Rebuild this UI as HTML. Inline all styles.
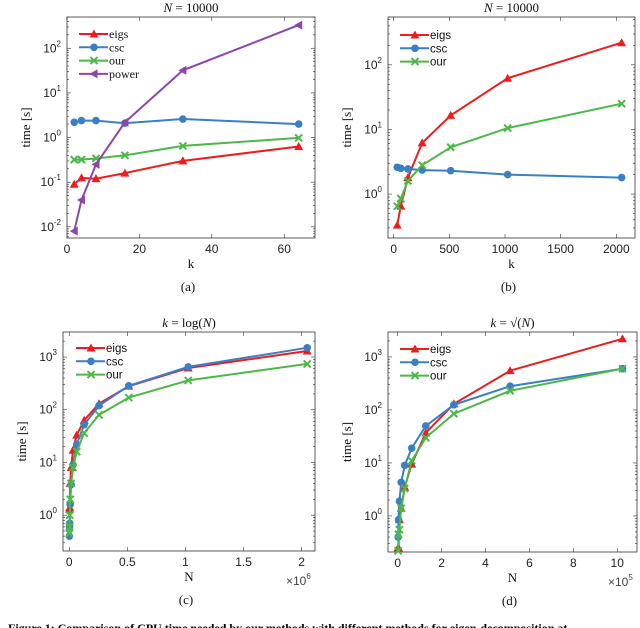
<!DOCTYPE html>
<html><head><meta charset="utf-8">
<style>
html,body{margin:0;padding:0;background:#fff;overflow:hidden;}
svg{display:block;}
.serif{font-family:"Liberation Serif",serif;}
.sans{font-family:"Liberation Sans",sans-serif;}
</style></head>
<body>
<svg id="fig" width="640" height="628" viewBox="0 0 640 628" xmlns="http://www.w3.org/2000/svg">
<text x="8" y="632" class="serif" font-size="12" font-weight="bold" fill="#000">Figure 1: Comparison of CPU time needed by our methods with different methods for eigen-decomposition at</text>
</svg>
<script>
// ---- data: panel a ----
const aK = [2, 4, 8, 16, 32, 64];
const aEigs = [0.09, 0.125, 0.12, 0.16, 0.3, 0.63];
const aCsc = [2.2, 2.4, 2.4, 2.1, 2.6, 2.0];
const aOur = [0.32, 0.32, 0.34, 0.4, 0.65, 0.98];
const aPower = [0.008, 0.04, 0.25, 2.2, 32, 330];
const aXTicks = [0, 20, 40, 60];
// ---- data: panel b ----
const bK = [32, 64, 128, 256, 512, 1024, 2048];
const bEigs = [0.33, 0.65, 1.8, 6.2, 16.5, 62, 220];
const bCsc = [2.6, 2.5, 2.45, 2.35, 2.3, 2.0, 1.8];
const bOur = [0.65, 0.85, 1.6, 2.8, 5.3, 10.5, 25];
const bXTicks = [0, 500, 1000, 1500, 2000];
// ---- data: panel c (N in units of 1e6) ----
const cN = [0.001, 0.002, 0.004, 0.008, 0.016, 0.032, 0.064, 0.128, 0.256, 0.512, 1.024, 2.048];
const cEigs = [1.3, 1.4, 4, 8, 17, 33, 63, 130, 280, 620, 1300, 1300];
const cCsc = [0.4, 0.6, 0.7, 1.6, 3.8, 9, 22, 52, 120, 285, 650, 1500];
const cOur = [0.45, 0.6, 1, 2, 4, 8, 16, 36, 80, 170, 360, 740];
const cXTicks = [0, 0.5, 1, 1.5, 2];
// ---- data: panel d (N in units of 1e5) ----
const dN = [0.02, 0.04, 0.08, 0.16, 0.32, 0.64, 1.28, 2.56, 5.12, 10.24];
const dEigs = [0.25, 0.25, 0.85, 1.4, 3.5, 9.5, 37, 130, 550, 2200];
const dCsc = [0.4, 0.85, 1.9, 4.3, 9, 19, 50, 125, 280, 600];
const dOur = [0.22, 0.45, 0.55, 1.4, 3.3, 11, 30, 85, 230, 600];
const dXTicks = [0, 2, 4, 6, 8, 10];

// panel c eigs: second-to-last entry duplicates; use values at N excluding 2.048 double
const cEigsUse = [1.3, 1.4, 4, 8, 17, 33, 63, 130, 280, 620, 1300];
const cEigsN = cN.slice(1);

const NS = 'http://www.w3.org/2000/svg';
const svg = document.getElementById('fig');
const RED='#ee1c1c', BLUE='#3a7fc4', GREEN='#4cb847', PURPLE='#8e44ad';

function mk(tag, attrs, parent){
  const e = document.createElementNS(NS, tag);
  for (const k in attrs) e.setAttribute(k, attrs[k]);
  (parent||svg).appendChild(e);
  return e;
}

function marker(g, type, x, y, color){
  let e;
  if (type === 'tri') {
    e = mk('polygon', {points:`${x},${y-4.5} ${x-4.5},${y+3.5} ${x+4.5},${y+3.5}`, fill:color}, g);
  } else if (type === 'ltri') {
    e = mk('polygon', {points:`${x-4.5},${y} ${x+3.5},${y-4.5} ${x+3.5},${y+4.5}`, fill:color}, g);
  } else if (type === 'circ') {
    e = mk('circle', {cx:x, cy:y, r:3.8, fill:color}, g);
  } else {
    e = mk('path', {d:`M${x-3.5},${y-3.5}L${x+3.5},${y+3.5}M${x-3.5},${y+3.5}L${x+3.5},${y-3.5}`, stroke:color, 'stroke-width':2}, g);
  }
  return e;
}

function panel(p){
  const g = mk('g', {});
  
  
  const xs = v => p.x0 + (v - p.xmin) / (p.xmax - p.xmin) * (p.x1 - p.x0);
  const ys = v => p.y1 - (Math.log10(v) - p.lmin) / (p.lmax - p.lmin) * (p.y1 - p.y0);
  const box = mk('rect', {x:p.x0, y:p.y0, width:p.x1-p.x0, height:p.y1-p.y0, fill:'none', stroke:'#333', 'stroke-width':0.8}, g);
  
  
  for (let d = Math.floor(p.lmin); d <= Math.ceil(p.lmax); d++) {
    for (let m = 1; m < 10; m++) {
      const v = m * Math.pow(10, d);
      const lv = Math.log10(v);
      if (lv < p.lmin || lv > p.lmax) continue;
      const y = ys(v);
      const len = m === 1 ? 4 : 2;
      mk('line', {x1:p.x0, x2:p.x0+len, y1:y, y2:y, stroke:'#333', 'stroke-width':0.6}, g);
      mk('line', {x1:p.x1, x2:p.x1-len, y1:y, y2:y, stroke:'#333', 'stroke-width':0.6}, g);
      if (m === 1) {
        const t = mk('text', {x:p.x0-6, y:y+4, 'text-anchor':'end', 'font-size':12, class:'sans', fill:'#222'}, g);
        
        
        t.textContent = '10';
        const s = mk('tspan', {'font-size':8, dy:-6}, t);
        s.textContent = String(d);
      }
    }
  }
  p.xticks.forEach(v => {
    const x = xs(v);
    mk('line', {x1:x, x2:x, y1:p.y1, y2:p.y1-4, stroke:'#333', 'stroke-width':0.6}, g);
    mk('line', {x1:x, x2:x, y1:p.y0, y2:p.y0+4, stroke:'#333', 'stroke-width':0.6}, g);
    const t = mk('text', {x:x, y:p.y1+15, 'text-anchor':'middle', 'font-size':12, class:'sans', fill:'#222'}, g);
    
    
    t.textContent = String(v);
  });
  p.series.forEach(s => {
    const sg = mk('g', {}, g);
    
    
    const pts = s.x.map((v, i) => xs(v).toFixed(1) + ',' + ys(s.y[i]).toFixed(1)).join(' ');
    const ln = mk('polyline', {points:pts, fill:'none', stroke:s.color, 'stroke-width':2}, sg);
    
    
    s.x.forEach((v, i) => {
      const m = marker(sg, s.m, xs(v), ys(s.y[i]), s.color);
      
      
    });
  });
  const lg = mk('g', {}, g);
  
  
  p.series.forEach((s, i) => {
    const y = p.ly + i * 13.3;
    const eg = mk('g', {}, lg);
    
    
    mk('line', {x1:p.lx, x2:p.lx+29, y1:y, y2:y, stroke:s.color, 'stroke-width':2}, eg);
    marker(eg, s.m, p.lx+15, y, s.color);
    const t = mk('text', {x:p.lx+30, y:y+4, 'font-size':p.legSerif?12:11.5, class:p.legSerif?'serif':'sans', fill:'#111'}, eg);
    t.textContent = s.label;
  });
  const tt = mk('text', {x:(p.x0+p.x1)/2, y:p.y0-5, 'text-anchor':'middle', 'font-size':13, class:'serif', fill:'#111'}, g);
  
  
  tt.innerHTML = p.title;
  const yl = mk('text', {x:0, y:0, 'text-anchor':'middle', 'font-size':13, class:'serif', fill:'#111', transform:`translate(${p.x0-37},${(p.y0+p.y1)/2}) rotate(-90)`}, g);
  
  
  yl.textContent = 'time [s]';
  const xl = mk('text', {x:(p.x0+p.x1)/2, y:p.y1+30, 'text-anchor':'middle', 'font-size':13, class:'serif', fill:'#111'}, g);
  
  
  xl.textContent = p.xlabel;
  if (p.exp) {
    const ex = mk('text', {x:p.x1-29, y:p.y1+34, 'font-size':12, class:'sans', fill:'#444'}, g);
    
    
    ex.textContent = '×10';
    const s = mk('tspan', {'font-size':8, dy:-6}, ex);
    s.textContent = p.exp;
  }
  const sub = mk('text', {x:(p.x0+p.x1)/2 - 3, y:p.y1+53, 'text-anchor':'middle', 'font-size':13, class:'serif', fill:'#111'}, g);
  
  
  sub.textContent = p.sub;
}

panel({name:'panel-a', x0:67, x1:315, y0:17, y1:238, xmin:0, xmax:68.5, lmin:-2.25, lmax:2.7,
  xticks:aXTicks, title:'<tspan font-style="italic">N</tspan> = 10000', xlabel:'k', sub:'(a)',
  lx:79, ly:34, legSerif:true,
  series:[
    {label:'eigs', x:aK, y:aEigs, color:RED, m:'tri'},
    {label:'csc', x:aK, y:aCsc, color:BLUE, m:'circ'},
    {label:'our', x:aK, y:aOur, color:GREEN, m:'x'},
    {label:'power', x:aK, y:aPower, color:PURPLE, m:'ltri'}
  ]});

panel({name:'panel-b', x0:388, x1:635, y0:17, y1:238, xmin:-51, xmax:2168, lmin:-0.68, lmax:2.74,
  xticks:bXTicks, title:'<tspan font-style="italic">N</tspan> = 10000', xlabel:'k', sub:'(b)',
  lx:400, ly:35, legSerif:false,
  series:[
    {label:'eigs', x:bK, y:bEigs, color:RED, m:'tri'},
    {label:'csc', x:bK, y:bCsc, color:BLUE, m:'circ'},
    {label:'our', x:bK, y:bOur, color:GREEN, m:'x'}
  ]});

panel({name:'panel-c', x0:63, x1:315, y0:332, y1:551, xmin:-0.054, xmax:2.115, lmin:-0.68, lmax:3.475,
  xticks:cXTicks, title:'<tspan font-style="italic">k</tspan> = log(<tspan font-style="italic">N</tspan>)', xlabel:'N', sub:'(c)',
  lx:76, ly:348, legSerif:false, exp:'6',
  series:[
    {label:'eigs', x:cEigsN, y:cEigsUse, color:RED, m:'tri'},
    {label:'csc', x:cN, y:cCsc, color:BLUE, m:'circ'},
    {label:'our', x:cN, y:cOur, color:GREEN, m:'x'}
  ]});

panel({name:'panel-d', x0:388, x1:637, y0:332, y1:552, xmin:-0.44, xmax:10.9, lmin:-0.68, lmax:3.47,
  xticks:dXTicks, title:'<tspan font-style="italic">k</tspan> = √(<tspan font-style="italic">N</tspan>)', xlabel:'N', sub:'(d)',
  lx:400, ly:349, legSerif:false, exp:'5',
  series:[
    {label:'eigs', x:dN, y:dEigs, color:RED, m:'tri'},
    {label:'csc', x:dN, y:dCsc, color:BLUE, m:'circ'},
    {label:'our', x:dN, y:dOur, color:GREEN, m:'x'}
  ]});
</script>
</body></html>
